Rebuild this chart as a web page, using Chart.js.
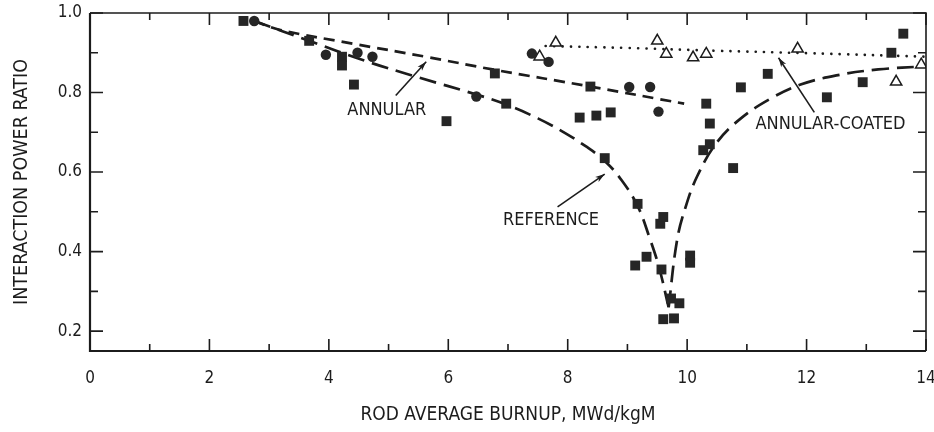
<!DOCTYPE html>
<html>
<head>
<meta charset="utf-8">
<script src="https://cdn.jsdelivr.net/npm/chart.js@4.4.1/dist/chart.umd.min.js"></script>
<style>
  html, body { margin: 0; padding: 0; background: #fff; }
  #wrap { width: 934px; height: 432px; }
</style>
</head>
<body>
<div id="wrap"><canvas id="chart" width="934" height="432"></canvas></div>
<script>
// tick labels
const xTickLabels = [0, 2, 4, 6, 8, 10, 12, 14];
const xMinorTicks = [1, 3, 5, 7, 9, 11, 13];
const yTickLabels = [0.2, 0.4, 0.6, 0.8, 1.0];
const yMinorTicks = [0.3, 0.5, 0.7, 0.9];

// reference rods (filled squares)
const refX = [2.57, 3.67, 4.22, 4.22, 4.42, 5.97, 6.78, 6.97, 8.2, 8.38, 8.48, 8.72, 8.62,
              9.17, 9.13, 9.32, 9.55, 9.6, 9.57, 9.6, 9.78, 9.73, 9.87, 10.05, 10.05,
              10.27, 10.38, 10.38, 10.32, 10.77, 10.9, 11.35, 12.34, 12.94, 13.42, 13.62];
const refY = [0.98, 0.93, 0.89, 0.868, 0.82, 0.728, 0.848, 0.772, 0.737, 0.815, 0.742, 0.75, 0.635,
              0.52, 0.365, 0.387, 0.47, 0.487, 0.355, 0.23, 0.232, 0.282, 0.27, 0.39, 0.372,
              0.655, 0.67, 0.722, 0.772, 0.61, 0.813, 0.847, 0.788, 0.826, 0.9, 0.948];

// annular rods (filled circles)
const annX = [2.75, 3.95, 4.48, 4.73, 6.47, 7.4, 7.68, 9.03, 9.38, 9.52];
const annY = [0.98, 0.895, 0.9, 0.89, 0.79, 0.898, 0.877, 0.814, 0.814, 0.752];

// annular-coated rods (open triangles)
const coatX = [7.53, 7.8, 9.5, 9.65, 10.1, 10.32, 11.85, 13.5, 13.92];
const coatY = [0.89, 0.925, 0.93, 0.897, 0.888, 0.897, 0.91, 0.827, 0.87];

// fitted curves (reference curve in two branches meeting at the dip)
const refLeftX = [2.75, 3.67, 4.6, 5.5, 6.47, 7.0, 7.5, 7.9, 8.3, 8.62, 8.9, 9.17, 9.37, 9.53, 9.69];
const refLeftY = [0.98, 0.93, 0.88, 0.838, 0.795, 0.768, 0.735, 0.703, 0.665, 0.628, 0.58, 0.515, 0.435, 0.36, 0.26];
const refRightX = [9.69, 9.83, 9.97, 10.17, 10.5, 10.9, 11.4, 11.9, 12.5, 13.2, 14.0];
const refRightY = [0.26, 0.4275, 0.51, 0.59, 0.675, 0.735, 0.785, 0.82, 0.843, 0.858, 0.866];
const annCurveX = [2.75, 3.17, 4.4, 5.62, 6.78, 8.38, 9.95];
const annCurveY = [0.98, 0.958, 0.923, 0.89, 0.857, 0.815, 0.772];
const coatCurveX = [7.63, 9.0, 10.5, 12.0, 14.0];
const coatCurveY = [0.917, 0.912, 0.905, 0.899, 0.89];

const pts = (xs, ys) => xs.map((x, i) => ({ x: x, y: ys[i] }));

const FONT = '"DejaVu Sans Condensed", "Liberation Sans Narrow", "DejaVu Sans", sans-serif';
const INK = '#1c1c1c';

// frame, inward ticks and the labels with arrows
const framePlugin = {
  id: 'frame',
  afterDraw(chart) {
    const { ctx, chartArea: a, scales: { x, y } } = chart;
    ctx.save();
    ctx.strokeStyle = INK;
    ctx.lineCap = 'butt';

    ctx.lineWidth = 2.2;
    ctx.beginPath();
    ctx.moveTo(a.left, a.top); ctx.lineTo(a.left, a.bottom); ctx.lineTo(a.right, a.bottom);
    ctx.stroke();
    ctx.lineWidth = 1.6;
    ctx.beginPath();
    ctx.moveTo(a.left, a.top); ctx.lineTo(a.right, a.top); ctx.lineTo(a.right, a.bottom);
    ctx.stroke();

    ctx.lineWidth = 1.6;
    const xt = (v, len) => {
      const px = x.getPixelForValue(v);
      ctx.beginPath();
      ctx.moveTo(px, a.bottom); ctx.lineTo(px, a.bottom - len);
      ctx.moveTo(px, a.top); ctx.lineTo(px, a.top + len);
      ctx.stroke();
    };
    const yt = (v, len) => {
      const py = y.getPixelForValue(v);
      ctx.beginPath();
      ctx.moveTo(a.left, py); ctx.lineTo(a.left + len, py);
      ctx.moveTo(a.right, py); ctx.lineTo(a.right - len, py);
      ctx.stroke();
    };
    xTickLabels.forEach(v => xt(v, 12));
    xMinorTicks.forEach(v => xt(v, 7));
    yTickLabels.forEach(v => yt(v, 13));
    yMinorTicks.forEach(v => yt(v, 8));

    // labels with arrows
    ctx.fillStyle = INK;
    ctx.font = '18px ' + FONT;
    ctx.textAlign = 'center';
    ctx.textBaseline = 'middle';
    const label = (txt, vx, vy) => ctx.fillText(txt, x.getPixelForValue(vx), y.getPixelForValue(vy));
    const arrow = (x0, y0, x1, y1) => {
      const ax = x.getPixelForValue(x0), ay = y.getPixelForValue(y0);
      const bx = x.getPixelForValue(x1), by = y.getPixelForValue(y1);
      const ang = Math.atan2(by - ay, bx - ax);
      ctx.lineWidth = 1.6;
      ctx.beginPath(); ctx.moveTo(ax, ay); ctx.lineTo(bx, by); ctx.stroke();
      ctx.beginPath();
      ctx.moveTo(bx, by);
      ctx.lineTo(bx - 10 * Math.cos(ang - 0.3), by - 10 * Math.sin(ang - 0.3));
      ctx.lineTo(bx - 7 * Math.cos(ang), by - 7 * Math.sin(ang));
      ctx.lineTo(bx - 10 * Math.cos(ang + 0.3), by - 10 * Math.sin(ang + 0.3));
      ctx.closePath();
      ctx.fill();
    };
    label('ANNULAR', 4.97, 0.755);
    arrow(5.12, 0.7925, 5.63, 0.8775);
    label('REFERENCE', 7.72, 0.4775);
    arrow(7.83, 0.5125, 8.62, 0.595);
    label('ANNULAR-COATED', 12.4, 0.72);
    arrow(12.13, 0.75, 11.53, 0.8875);
    ctx.restore();
  }
};

const curve = (xs, ys, dash, extra) => Object.assign({
  data: pts(xs, ys), showLine: true, pointRadius: 0, borderColor: INK, borderWidth: 2.7,
  borderDash: dash, tension: 0.4
}, extra || {});

new Chart(document.getElementById('chart'), {
  type: 'scatter',
  data: {
    datasets: [
      { data: pts(refX, refY), pointStyle: 'rect', pointRadius: 7, backgroundColor: '#262626', borderWidth: 0 },
      { data: pts(annX, annY), pointStyle: 'circle', pointRadius: 5.2, backgroundColor: '#262626', borderWidth: 0 },
      { data: pts(coatX, coatY), pointStyle: 'triangle', pointRadius: 6.5, backgroundColor: '#fff',
        borderColor: INK, borderWidth: 1.5 },
      curve(refLeftX, refLeftY, [17, 8]),
      curve(refRightX, refRightY, [17, 8]),
      curve(annCurveX, annCurveY, [11, 7]),
      curve(coatCurveX, coatCurveY, [0.1, 8.3], { borderWidth: 2.6, borderCapStyle: 'round' })
    ]
  },
  options: {
    responsive: false,
    animation: false,
    layout: { padding: { top: 13, right: 4, left: 0, bottom: 0 } },
    plugins: { legend: { display: false }, tooltip: { enabled: false } },
    scales: {
      x: {
        type: 'linear', min: 0, max: 14,
        grid: { display: false, drawTicks: false },
        border: { display: false },
        afterBuildTicks: s => { s.ticks = xTickLabels.map(v => ({ value: v })); },
        afterFit: s => { s.height = 81; s.paddingLeft = 0; s.paddingRight = 0; },
        ticks: { padding: 17, color: INK, maxRotation: 0, autoSkip: false,
                 font: { family: FONT, size: 17 }, callback: v => String(v) },
        title: { display: true, text: 'ROD AVERAGE BURNUP, MWd/kgM', color: INK,
                 font: { family: FONT, size: 19 }, padding: { top: 0, bottom: 6 } }
      },
      y: {
        type: 'linear', min: 0.15, max: 1.0,
        grid: { display: false, drawTicks: false },
        border: { display: false },
        afterBuildTicks: s => { s.ticks = yTickLabels.map(v => ({ value: v })); },
        afterFit: s => { s.width = 90; s.paddingTop = 0; s.paddingBottom = 0; },
        ticks: { padding: 8, color: INK, autoSkip: false,
                 font: { family: FONT, size: 17 }, callback: v => v.toFixed(1) },
        title: { display: true, text: 'INTERACTION POWER RATIO', color: INK,
                 font: { family: FONT, size: 19.5 }, padding: { top: 10, bottom: 0 } }
      }
    }
  },
  plugins: [framePlugin]
});
</script>
</body>
</html>
